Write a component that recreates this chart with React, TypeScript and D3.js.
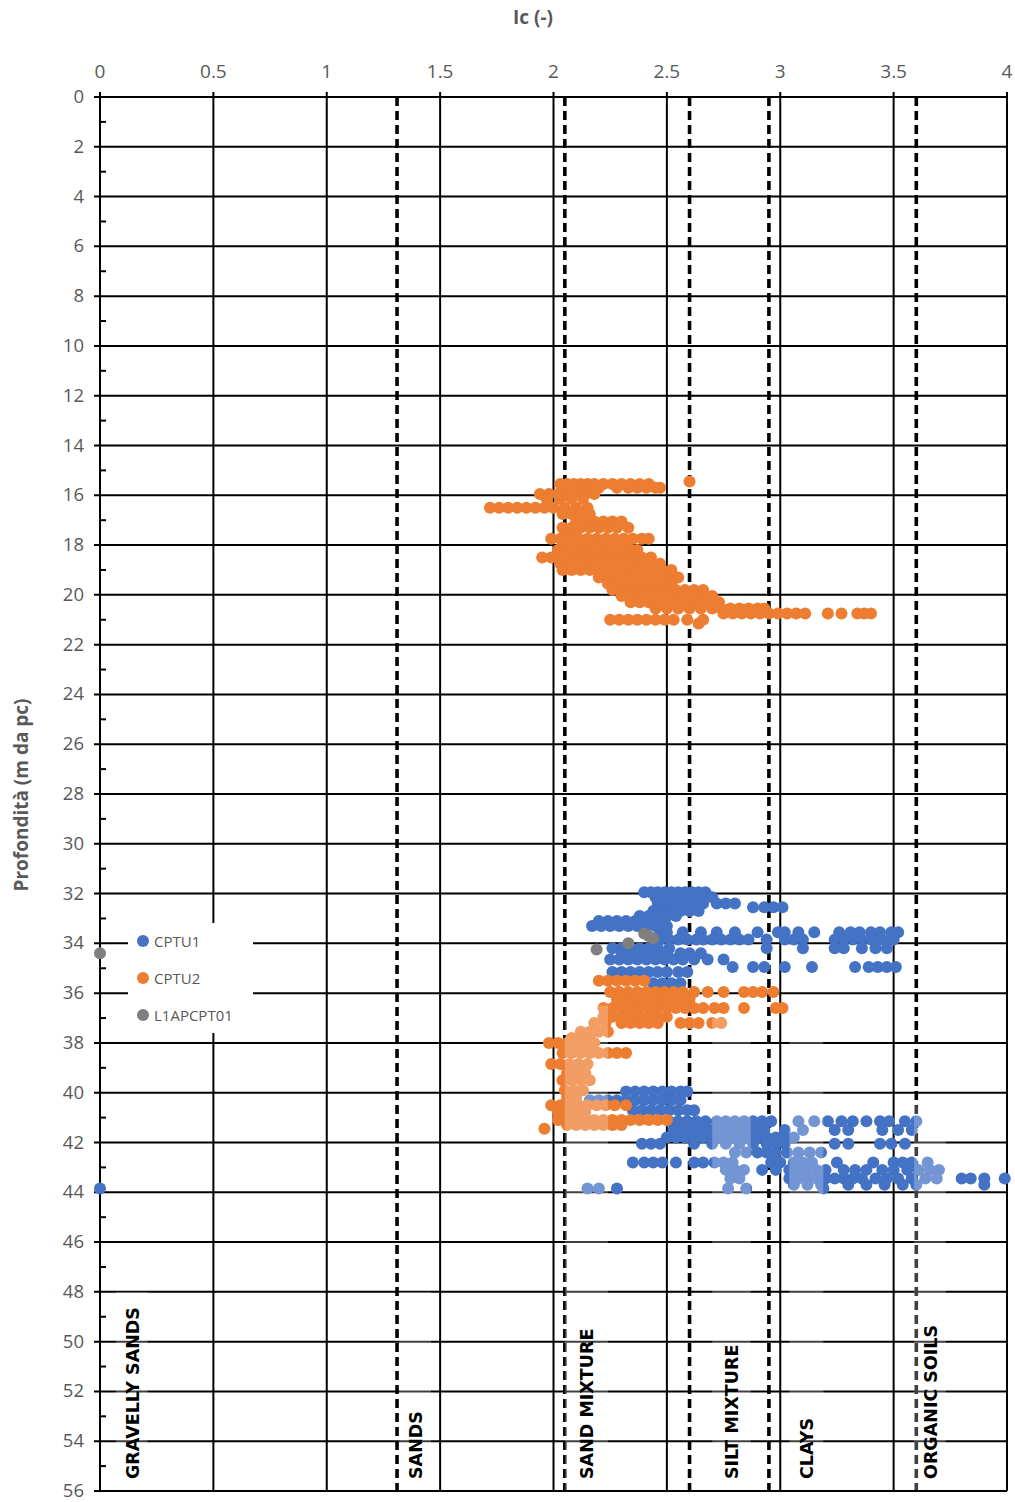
import React from "react";
import * as d3 from "d3";

const W = 1015, H = 1502;
const xTicks = [0, 0.5, 1, 1.5, 2, 2.5, 3, 3.5, 4];
const yMajor = d3.range(0, 57, 2);
const yMinor = d3.range(1, 56, 2);
const boundaries = [1.31, 2.05, 2.6, 2.95, 3.6];

type Row = [number, number[]];

const cptu2Rows: Row[] = [
  [15.45, [2.6]],
  [15.55, [2.03, 2.06, 2.09, 2.12, 2.15, 2.18, 2.22, 2.26, 2.3, 2.34, 2.38, 2.42]],
  [15.7, [2.05, 2.1, 2.14, 2.2, 2.28, 2.33, 2.37, 2.41, 2.45, 2.47]],
  [15.95, [1.94, 1.98, 2.02, 2.06, 2.1, 2.14, 2.18]],
  [16.15, [1.97, 2.03, 2.08, 2.13]],
  [16.5, [1.72, 1.76, 1.8, 1.84, 1.88, 1.92, 1.96, 2.0, 2.05, 2.1, 2.15]],
  [16.75, [2.04, 2.08, 2.12, 2.16]],
  [17.05, [2.1, 2.14, 2.18, 2.22, 2.26, 2.3]],
  [17.3, [2.04, 2.08, 2.12, 2.16, 2.2, 2.24, 2.28, 2.33]],
  [17.6, [2.05, 2.1]],
  [17.75, [1.99, 2.03, 2.07, 2.11, 2.15, 2.19, 2.23, 2.27, 2.31, 2.35, 2.39, 2.42]],
  [18.0, [2.04, 2.08, 2.12, 2.16, 2.2, 2.24, 2.28, 2.32]],
  [18.2, [2.02, 2.06, 2.1, 2.14, 2.18, 2.22, 2.26, 2.3, 2.34, 2.37]],
  [18.5, [1.95, 1.99, 2.03, 2.07, 2.11, 2.15, 2.19, 2.23, 2.27, 2.31, 2.35, 2.39, 2.43]],
  [18.75, [2.03, 2.07, 2.11, 2.15, 2.19, 2.23, 2.27, 2.31, 2.35, 2.39, 2.43, 2.47]],
  [19.0, [2.04, 2.08, 2.12, 2.16, 2.2, 2.24, 2.28, 2.32, 2.36, 2.4, 2.44, 2.48, 2.52]],
  [19.3, [2.2, 2.24, 2.28, 2.32, 2.36, 2.4, 2.44, 2.48, 2.52, 2.55]],
  [19.55, [2.24, 2.28, 2.32, 2.36, 2.4, 2.44, 2.48, 2.52]],
  [19.8, [2.26, 2.3, 2.34, 2.38, 2.42, 2.46, 2.5, 2.54, 2.58, 2.62, 2.66]],
  [20.05, [2.3, 2.34, 2.38, 2.42, 2.46, 2.5, 2.54, 2.58, 2.62, 2.66, 2.7]],
  [20.3, [2.34, 2.38, 2.42, 2.46, 2.5, 2.54, 2.58, 2.62, 2.66, 2.7, 2.73]],
  [20.55, [2.45, 2.5, 2.55, 2.6, 2.65, 2.7, 2.74, 2.78, 2.82, 2.86, 2.9, 2.93]],
  [20.75, [2.75, 2.79, 2.83, 2.87, 2.91, 2.95, 2.99, 3.03, 3.07, 3.11, 3.21, 3.27, 3.34, 3.37, 3.4]],
  [21.0, [2.25, 2.29, 2.33, 2.37, 2.41, 2.45, 2.49, 2.53, 2.59, 2.66]],
  [21.15, [2.64]],
  [35.5, [2.2, 2.24, 2.28, 2.32, 2.36, 2.4]],
  [35.95, [2.25, 2.29, 2.33, 2.37, 2.41, 2.45, 2.49, 2.53, 2.57, 2.62, 2.68, 2.75, 2.84, 2.88, 2.92, 2.97]],
  [36.25, [2.28, 2.32, 2.36, 2.4, 2.44, 2.48, 2.52, 2.56, 2.6]],
  [36.6, [2.22, 2.26, 2.3, 2.34, 2.38, 2.42, 2.46, 2.5, 2.54, 2.58, 2.62, 2.66, 2.71, 2.75, 2.84, 2.98, 3.01]],
  [36.95, [2.22, 2.26, 2.3, 2.34, 2.38, 2.42, 2.46, 2.5]],
  [37.2, [2.18, 2.23, 2.3, 2.34, 2.38, 2.42, 2.46, 2.56, 2.6, 2.64, 2.7, 2.74]],
  [37.55, [2.12, 2.16, 2.2, 2.24]],
  [37.8, [2.08, 2.12, 2.16]],
  [38.0, [1.98, 2.02, 2.06, 2.1, 2.14, 2.18]],
  [38.4, [2.04, 2.08, 2.12, 2.16, 2.2, 2.24, 2.28, 2.32]],
  [38.85, [1.99, 2.03, 2.07, 2.11, 2.15]],
  [39.2, [2.06, 2.1, 2.14]],
  [39.5, [2.04, 2.08, 2.12, 2.16]],
  [39.9, [2.05, 2.09, 2.13]],
  [40.2, [2.06, 2.1]],
  [40.5, [1.99, 2.03, 2.07, 2.11, 2.15, 2.19, 2.23, 2.27, 2.32]],
  [40.8, [2.02, 2.06, 2.1, 2.14]],
  [41.1, [2.02, 2.06, 2.1, 2.14, 2.18, 2.22, 2.26, 2.3, 2.34, 2.38, 2.42, 2.46, 2.5]],
  [41.3, [2.06, 2.1, 2.14, 2.18, 2.22, 2.26, 2.3]],
  [41.45, [1.96]],
];

const cptu1Rows: Row[] = [
  [31.95, [2.4, 2.43, 2.46, 2.49, 2.52, 2.55, 2.58, 2.61, 2.64, 2.67]],
  [32.15, [2.45, 2.48, 2.51, 2.54, 2.57, 2.6, 2.63, 2.66, 2.7]],
  [32.4, [2.46, 2.49, 2.52, 2.55, 2.58, 2.62, 2.66, 2.72, 2.76, 2.8]],
  [32.55, [2.88, 2.93, 2.97, 3.01]],
  [32.7, [2.44, 2.48, 2.52, 2.56, 2.6, 2.64]],
  [32.9, [2.38, 2.42, 2.46, 2.5, 2.54]],
  [33.1, [2.2, 2.24, 2.28, 2.32, 2.36, 2.4, 2.44, 2.48]],
  [33.3, [2.17, 2.21, 2.25, 2.29, 2.33, 2.37, 2.41, 2.45, 2.5]],
  [33.55, [2.47, 2.5, 2.57, 2.65, 2.72, 2.8, 2.9, 2.99, 3.02, 3.08, 3.15, 3.26, 3.31, 3.35, 3.4, 3.44, 3.49, 3.52]],
  [33.85, [2.47, 2.51, 2.55, 2.59, 2.63, 2.66, 2.7, 2.74, 2.78, 2.82, 2.86, 2.94, 3.02, 3.06, 3.1, 3.24, 3.28, 3.32, 3.36, 3.4, 3.44, 3.48, 3.5]],
  [34.2, [2.26, 2.3, 2.34, 2.38, 2.42, 2.46, 2.51, 2.94, 3.1, 3.24, 3.28, 3.36, 3.42, 3.47]],
  [34.4, [2.3, 2.34, 2.38, 2.42, 2.46, 2.5, 2.56, 2.6, 2.65]],
  [34.65, [2.25, 2.29, 2.33, 2.37, 2.41, 2.45, 2.49, 2.53, 2.57, 2.62, 2.68, 2.75]],
  [34.95, [2.79, 2.88, 2.93, 3.02, 3.14, 3.33, 3.39, 3.43, 3.47, 3.51]],
  [35.15, [2.26, 2.3, 2.34, 2.38, 2.42, 2.46, 2.5, 2.55, 2.59]],
  [35.6, [2.44, 2.48, 2.52, 2.56]],
  [39.95, [2.32, 2.36, 2.4, 2.44, 2.48, 2.52, 2.56, 2.59]],
  [40.3, [2.16, 2.2, 2.24, 2.28, 2.32, 2.36, 2.4, 2.44, 2.48, 2.52, 2.56]],
  [40.7, [2.35, 2.39, 2.43, 2.47, 2.51, 2.55, 2.59, 2.62]],
  [41.15, [2.51, 2.55, 2.59, 2.63, 2.67, 2.72, 2.76, 2.8, 2.84, 2.88, 2.92, 2.96, 3.08, 3.15, 3.21, 3.27, 3.32, 3.38, 3.44, 3.48, 3.55, 3.6]],
  [41.5, [2.53, 2.57, 2.61, 2.65, 2.69, 2.73, 2.77, 2.81, 2.85, 2.89, 2.93, 3.02, 3.1, 3.24, 3.3, 3.45, 3.52, 3.58]],
  [41.8, [2.5, 2.54, 2.58, 2.62, 2.66, 2.7, 2.74, 2.78, 2.82, 2.86, 2.9, 2.94, 2.98, 3.02, 3.06]],
  [42.05, [2.39, 2.43, 2.47, 2.62, 2.7, 2.76, 2.82, 2.88, 2.94, 2.98, 3.02, 3.24, 3.3, 3.44, 3.49, 3.55]],
  [42.4, [2.8, 2.85, 2.9, 2.94, 2.98, 3.03, 3.08, 3.13, 3.18]],
  [42.8, [2.35, 2.4, 2.44, 2.48, 2.54, 2.62, 2.66, 2.71, 2.75, 2.79, 2.96, 3.0, 3.06, 3.1, 3.14, 3.25, 3.41, 3.5, 3.54, 3.58, 3.65]],
  [43.1, [2.76, 2.8, 2.84, 2.92, 2.98, 3.04, 3.08, 3.12, 3.16, 3.2, 3.28, 3.33, 3.38, 3.45, 3.5, 3.56, 3.61, 3.66, 3.7]],
  [43.45, [2.78, 2.82, 3.04, 3.08, 3.12, 3.16, 3.2, 3.24, 3.28, 3.32, 3.36, 3.42, 3.47, 3.52, 3.58, 3.64, 3.69, 3.8, 3.84, 3.9, 3.99]],
  [43.7, [3.06, 3.12, 3.18, 3.3, 3.38, 3.46, 3.54, 3.6, 3.9]],
  [43.85, [0.0, 2.15, 2.2, 2.28, 2.77, 2.85, 3.19]],
];

const l1Rows: Row[] = [
  [33.6, [2.4]],
  [33.7, [2.42]],
  [33.8, [2.44]],
  [34.0, [2.33]],
  [34.25, [2.19]],
  [34.4, [0.0]],
];

const seriesNames = ["CPTU1", "CPTU2", "L1APCPT01"];
const seriesColors = ["#4472C4", "#ED7D31", "#7F7F7F"];
const seriesRows = [cptu1Rows, cptu2Rows, l1Rows];

// zone labels: [Ic box left, Ic box right, top depth of box, text]
const zoneLabels: [number, number, number, string][] = [
  [0.07, 0.21, 48, "GRAVELLY SANDS"],
  [1.32, 1.46, 48, "SANDS"],
  [2.05, 2.24, 36.5, "SAND MIXTURE"],
  [2.7, 2.87, 37.0, "SILT MIXTURE"],
  [3.04, 3.19, 37.5, "CLAYS"],
  [3.59, 3.73, 40.5, "ORGANIC SOILS"],
];

export default function App() {
  const x = d3.scaleLinear().domain([0, 4]).range([100, 1007]);
  const y = d3.scaleLinear().domain([0, 56]).range([97, 1491]);
  const grey = "#595959";
  const font = "'Open Sans', 'Liberation Sans', Arial, sans-serif";

  const points = seriesRows.map((rows) =>
    rows.flatMap(([d, vals]) => vals.map((v) => [v, d] as [number, number]))
  );

  return (
    <svg width={W} height={H} style={{ display: "block", position: "absolute", left: 0, top: 0 }}>
      <rect x={0} y={0} width={W} height={H} fill="#fff" />
      {yMajor.map((d) => (
        <line key={"h" + d} x1={x(0) - 6} x2={x(4)} y1={y(d)} y2={y(d)} stroke="#000" strokeWidth={2} />
      ))}
      {xTicks.map((t) => (
        <line key={"v" + t} x1={x(t)} x2={x(t)} y1={y(0) - 5} y2={y(56)} stroke="#000" strokeWidth={2} />
      ))}
      {yMinor.map((d) => (
        <line key={"m" + d} x1={x(0)} x2={x(0) + 6} y1={y(d)} y2={y(d)} stroke="#000" strokeWidth={2} />
      ))}
      {boundaries.map((b) => (
        <line key={"b" + b} x1={x(b)} x2={x(b)} y1={y(0)} y2={y(56)} stroke="#000" strokeWidth={3.6} strokeDasharray="9,5" />
      ))}
      {xTicks.map((t) => (
        <text key={"xt" + t} x={x(t)} y={78} textAnchor="middle" fontFamily={font} fontSize={19} fill={grey}>
          {String(t)}
        </text>
      ))}
      {yMajor.map((d) => (
        <text key={"yt" + d} x={84} y={y(d) + 6} textAnchor="end" fontFamily={font} fontSize={18.5} fill={grey}>
          {String(d)}
        </text>
      ))}
      <text x={533} y={24} textAnchor="middle" fontFamily={font} fontSize={19} fontWeight="bold" fill={grey}>
        Ic (-)
      </text>
      <text
        transform={`translate(28, ${795}) rotate(-90)`}
        textAnchor="middle"
        fontFamily={font}
        fontSize={19}
        fontWeight="bold"
        fill={grey}
      >
        Profondità (m da pc)
      </text>
      {points.map((pts, i) => (
        <g key={"s" + i} fill={seriesColors[i]}>
          {pts.map(([v, d], j) => (
            <circle key={j} cx={x(v)} cy={y(d)} r={6} />
          ))}
        </g>
      ))}
      {zoneLabels.map(([a, b, top, label]) => (
        <g key={label}>
          <rect x={x(a)} y={y(top)} width={x(b) - x(a)} height={y(56) - y(top) - 1} fill="#fff" fillOpacity={0.25} />
          <text
            transform={`translate(${(x(a) + x(b)) / 2 + 7}, ${y(56) - 12}) rotate(-90)`}
            fontFamily="'DejaVu Sans', sans-serif"
            fontSize={17.5}
            fontWeight="bold"
            fill="#000"
          >
            {label}
          </text>
        </g>
      ))}
      <rect x={128} y={923} width={125} height={110} fill="#fff" />
      {seriesNames.map((n, i) => (
        <g key={n}>
          <circle cx={143} cy={941 + i * 37} r={6} fill={seriesColors[i]} />
          <text x={154} y={941 + i * 37 + 5.5} fontFamily={font} fontSize={15} fill={grey}>
            {n}
          </text>
        </g>
      ))}
    </svg>
  );
}
